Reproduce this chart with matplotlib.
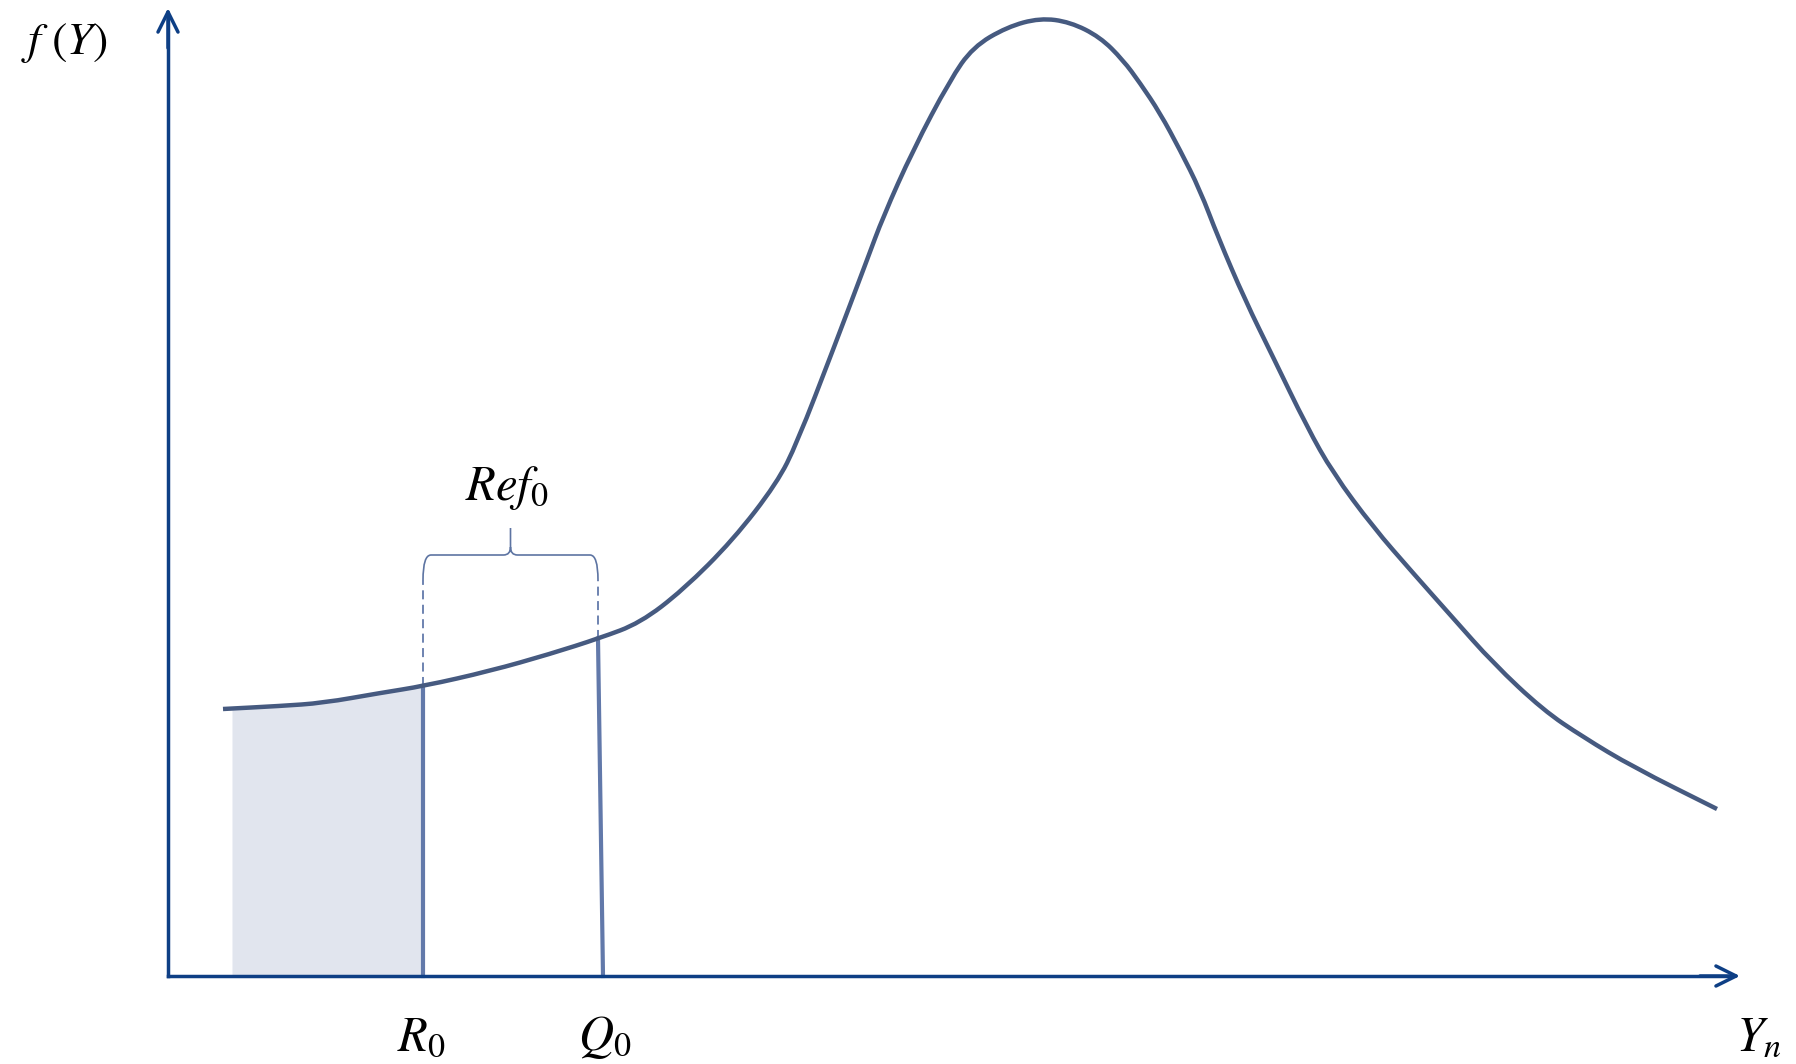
import numpy as np
import matplotlib
matplotlib.use("Agg")
import matplotlib.pyplot as plt
from matplotlib.path import Path
from matplotlib.patches import PathPatch

# ====== DATA (diagram units, origin = where the two axes meet) ======
curve_x = [55, 112, 155, 212, 256, 322, 382, 432, 472, 515, 565, 609, 629, 665,
           699, 715, 745, 782, 805, 839, 872, 902, 932, 955, 972, 992, 1012,
           1032, 1050, 1077, 1105, 1139, 1165, 1205, 1245, 1285, 1325, 1375,
           1415, 1465, 1549]
curve_y = [267, 270, 273, 283, 290, 305, 322, 338, 353, 386, 436, 493, 533, 626,
           716, 759, 826, 896, 929, 949, 958, 954, 939, 916, 893, 863, 826,
           786, 739, 676, 619, 549, 503, 449, 403, 358, 313, 266,
           239, 209, 167]

fill_start = 64          # left edge of the shaded area
r0_x = 255               # R_0
q0_x = [435, 430]        # Q_0 (bottom, top) - slightly slanted in the original
bracket_y = 421
bracket_tip = 448
bracket_end = 396
x_axis_end = 1572
y_axis_end = 968

labels = {
    "fy": r"$f\ (Y)$",
    "ref": r"$Ref_0$",
    "r0": r"$R_0$",
    "q0": r"$Q_0$",
    "yn": r"$Y_n$",
}
# ====================================================================

CURVE_COLOR = "#465a80"
VLINE_COLOR = "#6279aa"
AXIS_COLOR = "#0e3f85"
FILL_COLOR = "#e1e5ee"
BRACKET_COLOR = "#5d74a2"


def arrow(ax, start, end):
    ax.annotate("", xy=end, xytext=start,
                arrowprops=dict(arrowstyle="->,head_length=1.45,head_width=0.72",
                                lw=2.5, color=AXIS_COLOR,
                                shrinkA=0, shrinkB=0))


def smooth_path(xs, ys):
    # quadratic segments through the midpoints -> rounded corners
    pts = np.column_stack([xs, ys])
    mids = (pts[:-1] + pts[1:]) / 2
    verts = [pts[0], mids[0]]
    codes = [Path.MOVETO, Path.LINETO]
    for i in range(1, len(pts) - 1):
        verts += [pts[i], mids[i]]
        codes += [Path.CURVE3, Path.CURVE3]
    verts.append(pts[-1])
    codes.append(Path.LINETO)
    return Path(verts, codes)


def main():
    plt.rcParams["mathtext.fontset"] = "stix"

    fig = plt.figure(figsize=(17.96, 10.64), dpi=100)
    ax = fig.add_axes([0, 0, 1, 1])
    ax.set_xlim(-168, 1796 - 168)
    ax.set_ylim(-88, 976)
    ax.axis("off")

    cx = np.array(curve_x, dtype=float)
    cy = np.array(curve_y, dtype=float)

    # shaded area under the curve, up to R_0
    mask = (cx > fill_start) & (cx < r0_x)
    fx = np.concatenate([[fill_start], cx[mask], [r0_x]])
    fy = np.interp(fx, cx, cy)
    ax.fill_between(fx, 0, fy, color=FILL_COLOR, lw=0, zorder=1)

    # density curve
    ax.add_patch(PathPatch(smooth_path(cx, cy), fill=False, ec=CURVE_COLOR,
                           lw=3.2, joinstyle="round", capstyle="butt", zorder=4))

    # R_0 and Q_0 verticals
    r_top = np.interp(r0_x, cx, cy)
    q_top = np.interp(q0_x[1], cx, cy)
    ax.plot([r0_x, r0_x], [0, r_top], color=VLINE_COLOR, lw=3.0, zorder=3)
    ax.plot(q0_x, [0, q_top], color=VLINE_COLOR, lw=3.0, zorder=3)

    # dashed extensions up to the bracket
    ax.plot([r0_x, r0_x], [r_top, bracket_end], color=VLINE_COLOR, lw=1.3,
            ls=(0, (5, 3)), zorder=3)
    ax.plot([q0_x[1], q0_x[1]], [q_top, bracket_end], color=VLINE_COLOR, lw=1.3,
            ls=(0, (5, 3)), zorder=3)

    # curly bracket
    left, right = r0_x, q0_x[1]
    mid = (left + right) / 2
    verts = [
        (left, bracket_end), (left, bracket_y), (left + 8, bracket_y),
        (mid - 7, bracket_y), (mid, bracket_y), (mid, bracket_y + 8),
        (mid, bracket_tip),
        (mid, bracket_y + 8), (mid, bracket_y), (mid + 7, bracket_y),
        (right - 8, bracket_y), (right, bracket_y), (right, bracket_end),
    ]
    codes = [
        Path.MOVETO, Path.CURVE3, Path.CURVE3,
        Path.LINETO, Path.CURVE3, Path.CURVE3,
        Path.LINETO,
        Path.MOVETO, Path.CURVE3, Path.CURVE3,
        Path.LINETO, Path.CURVE3, Path.CURVE3,
    ]
    ax.add_patch(PathPatch(Path(verts, codes), fill=False, ec=BRACKET_COLOR,
                           lw=1.2, zorder=3))

    # axes with open arrow heads
    ax.plot([0, 0], [0, y_axis_end - 10], color=AXIS_COLOR, lw=2.5, zorder=5)
    ax.plot([0, x_axis_end - 10], [0, 0], color=AXIS_COLOR, lw=2.5, zorder=5)
    arrow(ax, (0, y_axis_end - 40), (0, y_axis_end))
    arrow(ax, (x_axis_end - 40, 0), (x_axis_end, 0))

    # labels
    ax.text(-104, 922, labels["fy"], fontsize=33, ha="center", va="baseline")
    ax.text(mid - 4, 476, labels["ref"], fontsize=35, ha="center", va="baseline")
    ax.text(r0_x - 2, -74, labels["r0"], fontsize=35, ha="center", va="baseline")
    ax.text(q0_x[0] + 2, -74, labels["q0"], fontsize=35, ha="center", va="baseline")
    ax.text(1591, -74, labels["yn"], fontsize=35, ha="center", va="baseline")

    fig.savefig("out.png", dpi=100)
    plt.close(fig)


if __name__ == "__main__":
    main()
